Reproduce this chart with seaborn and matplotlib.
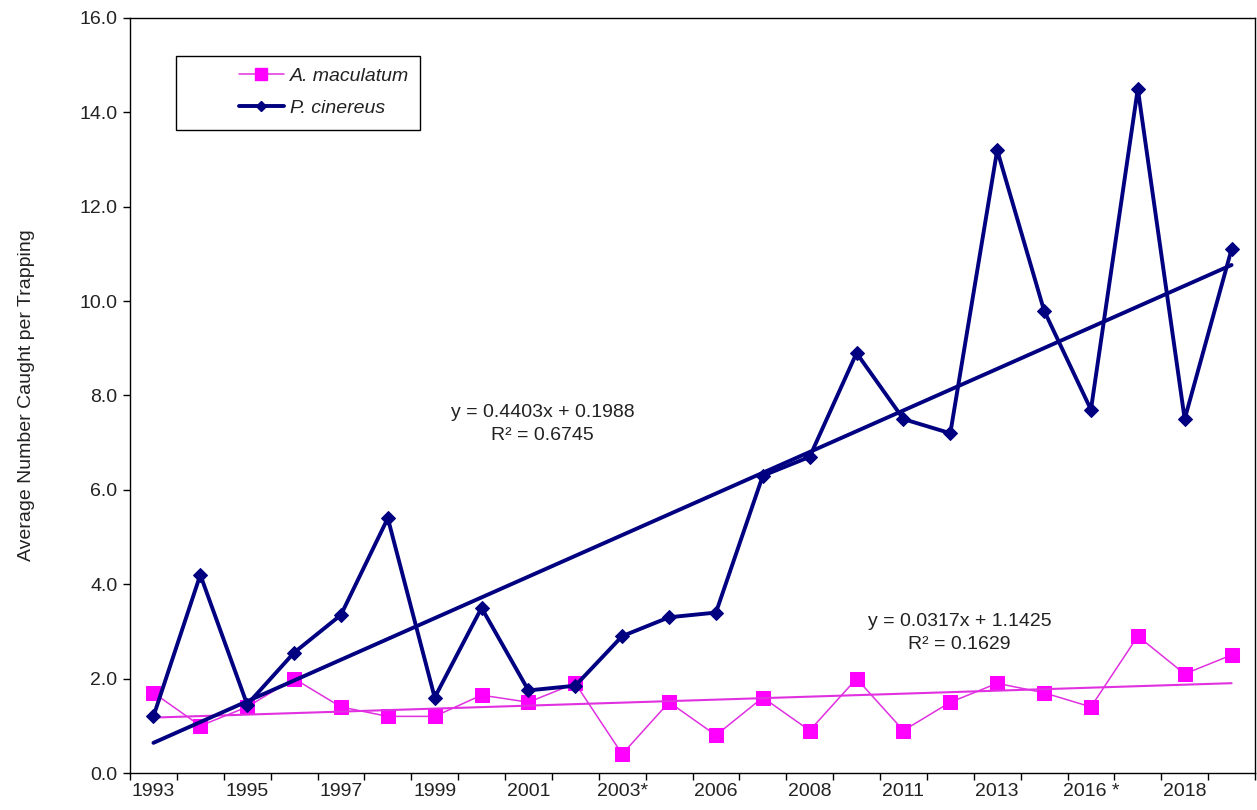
import numpy as np
import pandas as pd
import seaborn as sns
import matplotlib
matplotlib.use('Agg')
import matplotlib.pyplot as plt
from matplotlib.lines import Line2D
from matplotlib.patches import Rectangle

# values, one per trapping year (24 points)
year_labels = ['1993', '1995', '1997', '1999', '2001', '2003*',
               '2006', '2008', '2011', '2013', '2016 *', '2018']
p_cinereus = [1.2, 4.2, 1.45, 2.55, 3.35, 5.4, 1.6, 3.5, 1.75, 1.85, 2.9, 3.3,
              3.4, 6.3, 6.7, 8.9, 7.5, 7.2, 13.2, 9.8, 7.7, 14.5, 7.5, 11.1]
a_maculatum = [1.7, 1.0, 1.4, 2.0, 1.4, 1.2, 1.2, 1.65, 1.5, 1.9, 0.4, 1.5,
               0.8, 1.6, 0.9, 2.0, 0.9, 1.5, 1.9, 1.7, 1.4, 2.9, 2.1, 2.5]

# Excel trendline coefficients shown on the chart (x = 1..n)
pc_slope, pc_intercept, pc_r2 = 0.4403, 0.1988, 0.6745
am_slope, am_intercept, am_r2 = 0.0317, 1.1425, 0.1629

navy = '#000080'
magenta = '#ff00ff'
magenta_line = '#e030e0'

pos = np.arange(len(p_cinereus))
df = pd.DataFrame({'pos': pos, 'P. cinereus': p_cinereus, 'A. maculatum': a_maculatum})
df['pc_trend'] = pc_slope * (df['pos'] + 1) + pc_intercept
df['am_trend'] = am_slope * (df['pos'] + 1) + am_intercept

sns.set_style('white')
plt.rcParams['font.family'] = ['Liberation Sans', 'DejaVu Sans']
plt.rcParams['text.color'] = '#222222'

fig = plt.figure(figsize=(12.57, 8.10), dpi=100)
ax = fig.add_axes([130 / 1257, 1 - 773 / 810, 1125 / 1257, 755 / 810])

# A. maculatum
sns.lineplot(data=df, x='pos', y='A. maculatum', ax=ax, color=magenta_line, lw=1.1,
             marker='s', markersize=10, markerfacecolor=magenta, markeredgecolor=magenta)
sns.lineplot(data=df, x='pos', y='am_trend', ax=ax, color=magenta_line, lw=1.5)

# P. cinereus
sns.lineplot(data=df, x='pos', y='P. cinereus', ax=ax, color=navy, lw=2.8,
             marker='D', markersize=7, markerfacecolor=navy, markeredgecolor=navy)
sns.lineplot(data=df, x='pos', y='pc_trend', ax=ax, color=navy, lw=2.8)

ax.set_xlim(-0.5, len(pos) - 0.5)
ax.set_ylim(0, 16)
ax.set_yticks(np.arange(0, 17, 2))
ax.set_yticklabels([f'{v:.1f}' for v in np.arange(0, 17, 2)])
ax.set_xticks(pos[::2])
ax.set_xticklabels(year_labels)
ax.set_xticks(np.arange(-0.5, len(pos), 1), minor=True)
ax.tick_params(axis='x', which='major', length=0, pad=7, labelsize=14, labelcolor='#222222')
ax.tick_params(axis='x', which='minor', length=5, width=1, direction='out', color='black', bottom=True)
ax.tick_params(axis='y', length=5, width=1, direction='out', color='black', left=True,
               pad=4, labelsize=14, labelcolor='#222222')
ax.set_xlabel('')
ax.set_ylabel('Average Number Caught per Trapping', fontsize=14, labelpad=32, color='#222222')

for s in ax.spines.values():
    s.set_color('black')
    s.set_linewidth(1.0)

ax.text(8.3, 7.4, f'y = {pc_slope}x + {pc_intercept}\nR\u00b2 = {pc_r2}',
        ha='center', va='center', fontsize=14, linespacing=1.5, multialignment='center')
ax.text(17.2, 2.97, f'y = {am_slope}x + {am_intercept}\nR\u00b2 = {am_r2}',
        ha='center', va='center', fontsize=14, linespacing=1.5, multialignment='center')

# legend with a hand-placed frame like the original
handles = [Line2D([], [], color=magenta_line, lw=1.1, marker='s', markersize=9,
                  markerfacecolor=magenta, markeredgecolor=magenta),
           Line2D([], [], color=navy, lw=2.8, marker='D', markersize=5,
                  markerfacecolor=navy, markeredgecolor=navy)]
leg = ax.legend(handles, ['A. maculatum', 'P. cinereus'], loc='upper left',
                bbox_to_anchor=(0.09, 0.945), frameon=False, handlelength=2.3,
                handletextpad=0.3, labelspacing=0.75, borderaxespad=0,
                prop={'style': 'italic', 'size': 14})
ax.add_patch(Rectangle((0.041, 0.852), 0.217, 0.098, transform=ax.transAxes,
                       fill=False, edgecolor='black', lw=1.0))

fig.savefig('out.png', dpi=100)
